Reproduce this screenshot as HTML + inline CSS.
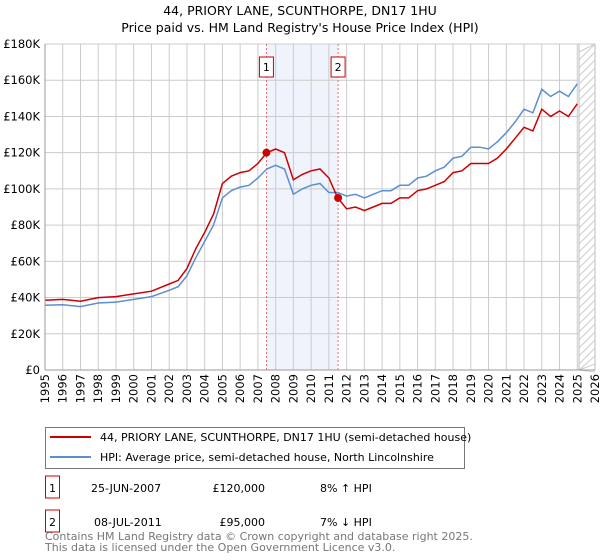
<!DOCTYPE html>
<html><head><meta charset="utf-8"><style>
body{margin:0;background:#fff;font-family:"DejaVu Sans","Liberation Sans",sans-serif;}
svg{display:block}
</style></head><body>
<svg id="c" width="600" height="560" xmlns="http://www.w3.org/2000/svg">
<text x="300" y="15" text-anchor="middle" font-size="12.5" fill="#000">44, PRIORY LANE, SCUNTHORPE, DN17 1HU</text>
<text x="300" y="32" text-anchor="middle" font-size="12.5" fill="#000">Price paid vs. HM Land Registry's House Price Index (HPI)</text>
<g id="grid"></g><g id="marks"></g><g id="axes"></g>
<rect x="45.5" y="427.5" width="419" height="41" fill="#fff" stroke="#777"/>
<line x1="50" y1="437" x2="91" y2="437" stroke="#cc0000" stroke-width="2"/>
<text x="100" y="441" font-size="11">44, PRIORY LANE, SCUNTHORPE, DN17 1HU (semi-detached house)</text>
<line x1="50" y1="457" x2="91" y2="457" stroke="#5b8fd1" stroke-width="2"/>
<text x="100" y="461" font-size="11">HPI: Average price, semi-detached house, North Lincolnshire</text>
<rect x="45.5" y="476" width="14" height="22" fill="#fff" stroke="#cc0000"/>
<text x="52.5" y="492" font-size="11" text-anchor="middle">1</text>
<text x="91" y="492" font-size="11">25-JUN-2007</text>
<text x="265" y="492" font-size="11" text-anchor="end">£120,000</text>
<text x="320" y="492" font-size="11">8% ↑ HPI</text>
<rect x="45.5" y="510" width="14" height="22" fill="#fff" stroke="#cc0000"/>
<text x="52.5" y="526" font-size="11" text-anchor="middle">2</text>
<text x="94" y="526" font-size="11">08-JUL-2011</text>
<text x="265" y="526" font-size="11" text-anchor="end">£95,000</text>
<text x="320" y="526" font-size="11">7% ↓ HPI</text>
<text x="45" y="540" font-size="11" fill="#777">Contains HM Land Registry data © Crown copyright and database right 2025.</text>
<text x="45" y="551" font-size="11" fill="#777">This data is licensed under the Open Government Licence v3.0.</text>
</svg>
<script>
const years=[1995,1996,1997,1998,1999,2000,2001,2002,2002.5,2003,2003.5,2004,2004.5,2005,2005.5,2006,2006.5,2007,2007.5,2008,2008.5,2009,2009.5,2010,2010.5,2011,2011.5,2012,2012.5,2013,2013.5,2014,2014.5,2015,2015.5,2016,2016.5,2017,2017.5,2018,2018.5,2019,2019.5,2020,2020.5,2021,2021.5,2022,2022.5,2023,2023.5,2024,2024.5,2025];
const hpi=[35.7,36,35,37,37.5,39,40.5,44,46,52,62,71,80,95,99,101,102,106,111,113,111,97,100,102,103,98,98,96,97,95,97,99,99,102,102,106,107,110,112,117,118,123,123,122,126,131,137,144,142,155,151,154,151,158];
const price=[38.5,39,38,40,40.5,42,43.5,47.5,49.5,56,67,76,86,103,107,109,110,114,120,122,120,105,108,110,111,106,95,89,90,88,90,92,92,95,95,99,100,102,104,109,110,114,114,114,117,122,128,134,132,144,140,143,140,147];
const sales=[[2007.48,120],[2011.52,95]];
const yTicks=[0,20,40,60,80,100,120,140,160,180];
const xTicks=[1995,1996,1997,1998,1999,2000,2001,2002,2003,2004,2005,2006,2007,2008,2009,2010,2011,2012,2013,2014,2015,2016,2017,2018,2019,2020,2021,2022,2023,2024,2025,2026];
const NS="http://www.w3.org/2000/svg";
const X=y=>45+(y-1995)*(550/31), Y=v=>370-v*(326/180);
function mk(p,t,a){const e=document.createElementNS(NS,t);for(const k in a)e.setAttribute(k,a[k]);p.appendChild(e);return e;}
const G=document.getElementById('grid'),M=document.getElementById('marks'),A=document.getElementById('axes');
const band=mk(G,'rect',{x:X(2007.48),y:Y(180),width:X(2011.52)-X(2007.48),height:Y(0)-Y(180),fill:'#eef3fc'});


xTicks.forEach(t=>{mk(G,'line',{x1:X(t),x2:X(t),y1:Y(180),y2:Y(0),stroke:'#ccc'});
const tx=X(t)+4,ty=374;
const l=mk(A,'text',{x:tx,y:ty,'font-size':11.5,'text-anchor':'end',transform:'rotate(-90 '+tx+' '+ty+')'});l.textContent=t;

});
yTicks.forEach(t=>{mk(G,'line',{x1:45,x2:595,y1:Y(t),y2:Y(t),stroke:'#ccc'});
const l=mk(A,'text',{x:40,y:Y(t)+4,'font-size':11.5,'text-anchor':'end'});l.textContent=t?'£'+t+'K':'£0';

});
const hx=X(2025.1);
const hatch=mk(G,'g',{});


mk(hatch,'rect',{x:hx,y:Y(180),width:595-hx,height:Y(0)-Y(180),fill:'#fff',stroke:'#bbb'});
for(let yy=Y(180);yy<Y(0)+20;yy+=8)mk(hatch,'line',{x1:hx,y1:Math.min(yy,Y(0)),x2:595,y2:Math.max(yy-(595-hx),Y(180)),stroke:'#ccc'});
mk(A,'line',{x1:45,x2:45,y1:Y(180),y2:Y(0),stroke:'#999'});
mk(A,'line',{x1:45,x2:595,y1:Y(0),y2:Y(0),stroke:'#999'});
sales.forEach((s,i)=>{mk(M,'line',{x1:X(s[0]),x2:X(s[0]),y1:Y(180),y2:Y(0),stroke:'#e05050','stroke-dasharray':'2,2','stroke-width':0.8});
const b=mk(M,'rect',{x:X(s[0])-7,y:57,width:14,height:20,fill:'#fff',stroke:'#cc0000'});


const t=mk(M,'text',{x:X(s[0]),y:71,'font-size':11,'text-anchor':'middle'});t.textContent=i+1;});
const pth=arr=>arr.map((v,i)=>(i?'L':'M')+X(years[i]).toFixed(1)+','+Y(v).toFixed(1)).join('');
const h=mk(M,'path',{d:pth(hpi),fill:'none',stroke:'#5b8fd1','stroke-width':1.5});


const p=mk(M,'path',{d:pth(price),fill:'none',stroke:'#cc0000','stroke-width':1.5});


sales.forEach(s=>{const c=mk(M,'circle',{cx:X(s[0]),cy:Y(s[1]),r:4,fill:'#cc0000'});

});
</script>
</body></html>
